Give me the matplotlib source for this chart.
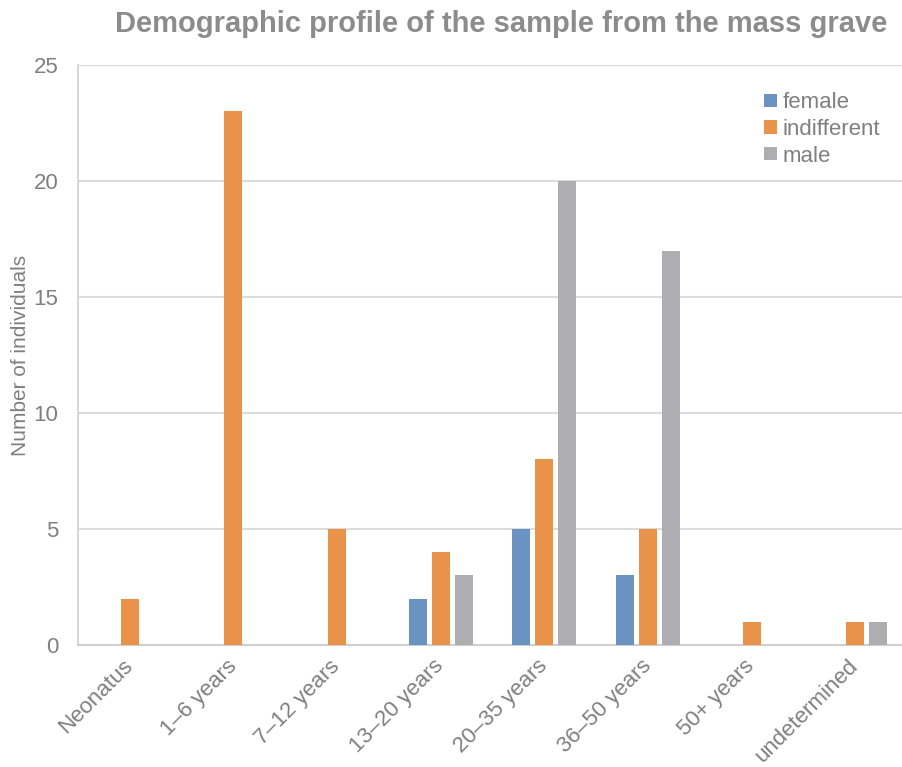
import matplotlib
matplotlib.use("Agg")
import matplotlib.pyplot as plt
import numpy as np

# data
categories = ["Neonatus", "1\u20136 years", "7\u201312 years", "13\u201320 years",
              "20\u201335 years", "36\u201350 years", "50+ years", "undetermined"]
female      = [0, 0, 0, 2, 5, 3, 0, 0]
indifferent = [2, 23, 5, 4, 8, 5, 1, 1]
male        = [0, 0, 0, 3, 20, 17, 0, 1]

series = [("female", female, "#6a93c2"),
          ("indifferent", indifferent, "#e8924a"),
          ("male", male, "#aeaeb2")]

plt.rcParams['font.family'] = ['Liberation Sans', 'DejaVu Sans']
text_grey = "#7f7f7f"

fig = plt.figure(figsize=(9.03, 7.67), dpi=100)
ax = fig.add_axes([78 / 903, 122 / 767, 829 / 903, 580 / 767])

x = np.arange(len(categories))
width = 0.174
step = 0.222
for k, (name, vals, col) in enumerate(series):
    ax.bar(x + (k - 1) * step, vals, width, color=col, label=name, zorder=3)

ax.set_xlim(-0.5, len(categories) - 0.5)
ax.set_ylim(0, 25)
ax.set_yticks(np.arange(0, 26, 5))
ax.grid(axis='y', color='#dcdcdc', linewidth=1.5, zorder=0)
ax.set_axisbelow(True)

for s in ['top', 'right']:
    ax.spines[s].set_visible(False)
ax.spines['left'].set_color('#d0d0d0')
ax.spines['left'].set_linewidth(1.2)
ax.spines['bottom'].set_color('#cfcfcf')
ax.spines['bottom'].set_linewidth(1.5)

ax.tick_params(axis='both', length=0, labelsize=16, colors=text_grey)
ax.set_xticks(x)
ax.set_xticklabels(categories, rotation=45, ha='right', va='center',
                   rotation_mode='anchor', fontsize=16)
ax.tick_params(axis='x', pad=13)
ax.tick_params(axis='y', pad=14)

ax.set_ylabel("Number of individuals", fontsize=15, color=text_grey, labelpad=3)

fig.suptitle("Demographic profile of the sample from the mass grave",
             x=0.555, y=0.987, fontsize=21, fontweight='bold', color='#8c8c8c')

leg = ax.legend(loc='upper right', bbox_to_anchor=(0.978, 0.968), frameon=False,
                fontsize=16, handlelength=0.55, handleheight=0.55,
                handletextpad=0.25, labelspacing=0.25, borderaxespad=0)
for t in leg.get_texts():
    t.set_color(text_grey)

fig.savefig("out.png", dpi=100)
